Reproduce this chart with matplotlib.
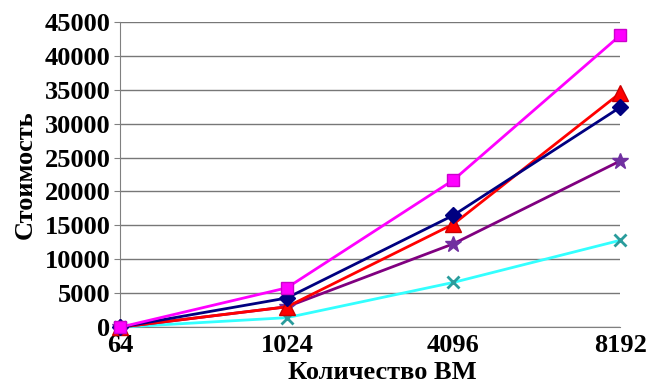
import numpy as np
import matplotlib.pyplot as plt

# cost vs number of VMs
vm_counts = ["64", "1024", "4096", "8192"]
cost_magenta = [0, 5800, 21700, 43000]
cost_navy = [0, 4300, 16500, 32400]
cost_red = [0, 3000, 15200, 34500]
cost_purple = [0, 3000, 12300, 24500]
cost_cyan = [0, 1400, 6600, 12800]

plt.rcParams['font.family'] = ['Liberation Serif', 'DejaVu Serif']
plt.rcParams['font.weight'] = 'bold'

fig = plt.figure(figsize=(6.5, 3.84), dpi=100)
ax = fig.add_axes([0.185, 0.148, 0.769, 0.795])

x = np.arange(len(vm_counts))
ax.plot(x, cost_magenta, color='#FF00FF', lw=2, marker='s', ms=9,
        mfc='#FF00FF', mec='#CC00CC', clip_on=False, zorder=5)
ax.plot(x, cost_cyan, color='#33FFFF', lw=2, marker='x', ms=8, mew=2,
        mec='#2A9C9C', clip_on=False, zorder=3)
ax.plot(x, cost_purple, color='#800080', lw=2, marker='*', ms=12,
        mfc='#7030A0', mec='#7030A0', clip_on=False, zorder=3)
ax.plot(x, cost_red, color='#FF0000', lw=2, marker='^', ms=12,
        mfc='#FF0000', mec='#CC0000', clip_on=False, zorder=4)
ax.plot(x, cost_navy, color='#000080', lw=2, marker='D', ms=8,
        mfc='#000080', mec='#000080', clip_on=False, zorder=4)

ax.set_xlim(0, 3)
ax.set_ylim(0, 45000)
ax.set_yticks(np.arange(0, 45001, 5000))
ax.set_xticks(x)
ax.set_xticklabels(vm_counts)
ax.tick_params(axis='both', labelsize=19, colors='black')
ax.tick_params(axis='y', length=4, color='gray', pad=3)
ax.tick_params(axis='x', length=0, pad=5)

ax.grid(axis='y', color='#777777', lw=1)
ax.set_axisbelow(True)
for side in ['top', 'right']:
    ax.spines[side].set_visible(False)
ax.spines['left'].set_color('#808080')
ax.spines['bottom'].set_color('#808080')

ax.set_xlabel('Количество ВМ', fontsize=19, fontweight='bold',
              va='baseline')
ax.xaxis.set_label_coords(0.524, -0.17)
ax.set_ylabel('Стоимость', fontsize=19, fontweight='bold', labelpad=6)

fig.savefig('out.png', dpi=100)
